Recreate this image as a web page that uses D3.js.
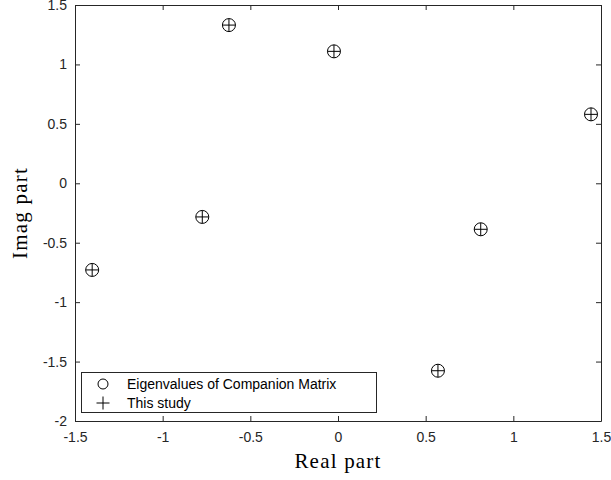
<!DOCTYPE html>
<html>
<head>
<meta charset="utf-8">
<script src="https://cdn.jsdelivr.net/npm/d3@7"></script>
<style>
  body { margin: 0; background: #fff; }
  .tick text { font-family: "Liberation Sans", Arial, sans-serif; font-size: 14px; fill: #262626; }
  .tick line, .domain { stroke: #262626; }
</style>
</head>
<body>
<script>
// eigenvalues (real, imag)
var realPart = [-0.622, -0.023, 1.443, 0.814, -0.774, -1.402, 0.570];
var imagPart = [1.331, 1.110, 0.580, -0.387, -0.283, -0.729, -1.577];
var xTicks = [-1.5, -1, -0.5, 0, 0.5, 1, 1.5];
var yTicks = [-2, -1.5, -1, -0.5, 0, 0.5, 1, 1.5];
var legendLabels = ["Eigenvalues of Companion Matrix", "This study"];

var w = 611, h = 480;
// plot box edges (not "top", which is taken by window.top)
var padL = 75, padR = 601, padT = 5, padB = 421;

var svg = d3.select("body").append("svg")
    .attr("width", w)
    .attr("height", h);

var x = d3.scaleLinear().domain([-1.5, 1.5]).range([padL, padR]);
var y = d3.scaleLinear().domain([-2, 1.5]).range([padB, padT]);

// plain hyphen minus like the reference
var fmt = function(d){ return String(d); };

// box with inward ticks on all four sides
svg.append("g")
    .attr("transform", "translate(0," + padB + ")")
    .call(d3.axisBottom(x).tickValues(xTicks).tickSize(-5).tickSizeOuter(0).tickPadding(11).tickFormat(fmt));
svg.append("g")
    .attr("transform", "translate(0," + padT + ")")
    .call(d3.axisTop(x).tickValues(xTicks).tickSize(-5).tickSizeOuter(0).tickFormat(""));
svg.append("g")
    .attr("transform", "translate(" + padL + ",0)")
    .call(d3.axisLeft(y).tickValues(yTicks).tickSize(-5).tickSizeOuter(0).tickPadding(8).tickFormat(fmt));
svg.append("g")
    .attr("transform", "translate(" + padR + ",0)")
    .call(d3.axisRight(y).tickValues(yTicks).tickSize(-5).tickSizeOuter(0).tickFormat(""));

var pts = d3.range(realPart.length);

// circles
svg.selectAll(".eig")
    .data(pts)
    .enter()
    .append("circle")
    .attr("class", "eig")
    .attr("cx", function(i){ return x(realPart[i]); })
    .attr("cy", function(i){ return y(imagPart[i]); })
    .attr("r", 6.5)
    .attr("fill", "none")
    .attr("stroke", "#000")
    .attr("stroke-width", 1);

// plus markers
var plusPath = "M-6.5,0H6.5M0,-6.5V6.5";
svg.selectAll(".study")
    .data(pts)
    .enter()
    .append("path")
    .attr("class", "study")
    .attr("transform", function(i){ return "translate(" + x(realPart[i]) + "," + y(imagPart[i]) + ")"; })
    .attr("d", plusPath)
    .attr("stroke", "#000")
    .attr("stroke-width", 1);

// axis labels (LaTeX-ish serif)
svg.append("text")
    .attr("x", (padL + padR) / 2)
    .attr("y", 468)
    .attr("text-anchor", "middle")
    .style("font-family", "'Liberation Serif', 'DejaVu Serif', serif")
    .style("font-size", "21px")
    .style("letter-spacing", "1.2px")
    .text("Real part");

svg.append("text")
    .attr("transform", "translate(27," + ((padT + padB) / 2) + ") rotate(-90)")
    .attr("text-anchor", "middle")
    .style("font-family", "'Liberation Serif', 'DejaVu Serif', serif")
    .style("font-size", "21px")
    .style("letter-spacing", "1.2px")
    .text("Imag part");

// legend
var legend = svg.append("g");
legend.append("rect")
    .attr("x", 81.5).attr("y", 372.5)
    .attr("width", 295).attr("height", 40)
    .attr("fill", "#fff")
    .attr("stroke", "#262626")
    .attr("stroke-width", 1);

legend.append("circle")
    .attr("cx", 103).attr("cy", 384).attr("r", 5)
    .attr("fill", "none").attr("stroke", "#000");
legend.append("path")
    .attr("transform", "translate(103,403)")
    .attr("d", plusPath)
    .attr("stroke", "#000");

legend.selectAll(".leglabel")
    .data(legendLabels)
    .enter()
    .append("text")
    .attr("class", "leglabel")
    .attr("x", 127)
    .attr("y", function(d, i){ return 388.5 + i * 19; })
    .style("font-family", "'Liberation Sans', Arial, sans-serif")
    .style("font-size", "14px")
    .text(function(d){ return d; });
</script>
</body>
</html>
